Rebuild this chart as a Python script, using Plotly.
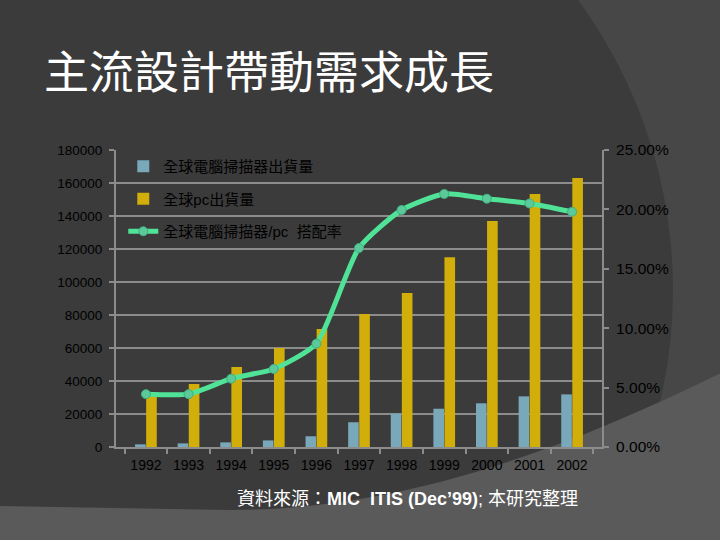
import plotly.graph_objects as go

# data
years = ["1992", "1993", "1994", "1995", "1996", "1997", "1998", "1999", "2000", "2001", "2002"]
scanner_units = [1600, 2200, 2800, 4000, 6500, 15000, 20200, 23200, 26500, 30700, 31900]
pc_units = [32000, 38200, 48500, 60000, 71500, 80600, 93300, 115000, 137000, 153300, 163000]
attach_rate = [4.45, 4.45, 5.75, 6.57, 8.7, 16.75, 19.95, 21.3, 20.9, 20.5, 19.8]  # percent

scanner_name = "全球電腦掃描器出貨量"
pc_name = "全球pc出貨量"
rate_name = "全球電腦掃描器/pc\u00a0\u00a0搭配率"

title_text = "主流設計帶動需求成長"
source_text = "資料來源：<b>MIC\u00a0\u00a0ITIS (Dec’99)</b>; 本研究整理"

BG_DARK = "#3b3b3b"
BG_MID = "#474747"
BG_LIGHT = "#5a5a5a"
GRID = "#8c8c8c"
FONT = "Liberation Sans, Noto Sans CJK TC, sans-serif"
CJK = "Noto Sans CJK TC, sans-serif"

fig = go.Figure()

fig.add_trace(go.Bar(
    x=years, y=scanner_units, name=scanner_name,
    marker=dict(color="#78a8b9", line=dict(width=0)),
    legendgroup="a",
))
fig.add_trace(go.Bar(
    x=years, y=pc_units, name=pc_name,
    marker=dict(color="#d2ae0a", line=dict(width=0)),
    legendgroup="b",
))
fig.add_trace(go.Scatter(
    x=years, y=[v / 100 for v in attach_rate], name=rate_name, yaxis="y2",
    mode="lines+markers",
    line=dict(color="#50e398", width=5, shape="spline", smoothing=0.6),
    marker=dict(size=9, color="#5cc99a", line=dict(color="#3fae80", width=1)),
    legendgroup="c",
))


# pixel -> paper helpers for the background shapes
def px(x):
    return (x - 116) / 486


def py(y):
    return (447 - y) / 297


# background decoration: lighter region right of a big arc, light band at the bottom
shapes = [
    dict(type="rect", xref="paper", yref="paper", x0=px(-10), x1=px(730), y0=py(550), y1=py(-10),
         fillcolor=BG_MID, line_width=0, layer="below"),
]

# dark disc whose right edge makes the arc
cx, cy, r = 183, 290, 490
shapes.append(dict(type="circle", xref="paper", yref="paper",
                   x0=px(cx - r), x1=px(cx + r), y0=py(cy + r), y1=py(cy - r),
                   fillcolor=BG_DARK, line_width=0, layer="below"))

# light band at the bottom
band_path = "M {0},{1} L {2},{3} C {4},{5} {6},{7} {8},{9} L {10},{11} L {12},{13} Z".format(
    px(-5), py(506), px(230), py(510), px(400), py(510), px(560), py(452),
    px(725), py(371), px(725), py(545), px(-5), py(545))
shapes.append(dict(type="path", xref="paper", yref="paper", path=band_path,
                   fillcolor=BG_LIGHT, line_width=0, layer="below"))

fig.update_layout(
    width=720, height=540, autosize=False,
    margin=dict(l=116, r=118, t=150, b=93),
    paper_bgcolor=BG_DARK,
    plot_bgcolor="rgba(0,0,0,0)",
    barmode="group", bargap=0.48, bargroupgap=0.04,
    font=dict(family=FONT, size=14, color="black"),
    showlegend=True,
    legend=dict(
        x=0.015, y=1.0, xanchor="left", yanchor="top",
        bgcolor="rgba(0,0,0,0)", tracegroupgap=10,
        font=dict(family=FONT, size=15, color="black"),
    ),
    xaxis=dict(
        type="category", showgrid=False,
        showline=True, linecolor=GRID, linewidth=2,
        ticks="outside", tickson="boundaries", ticklen=5, tickcolor=GRID, tickwidth=2,
        tickfont=dict(size=14, color="black"), ticklabelstandoff=4,
    ),
    yaxis=dict(
        range=[0, 180000], dtick=20000, tickformat="d",
        showgrid=True, gridcolor=GRID, gridwidth=2,
        showline=True, linecolor=GRID, linewidth=2,
        ticks="outside", ticklen=5, tickcolor=GRID, tickwidth=2,
        tickfont=dict(size=13.5, color="black"), ticklabelstandoff=4,
        zeroline=False,
    ),
    yaxis2=dict(
        overlaying="y", side="right",
        range=[0, 0.25], dtick=0.05, tickformat=".2%",
        showgrid=False, zeroline=False,
        showline=True, linecolor=GRID, linewidth=2,
        ticks="outside", ticklen=5, tickcolor=GRID, tickwidth=2,
        tickfont=dict(size=15.5, color="black"), ticklabelstandoff=4,
    ),
    annotations=[
        dict(text=title_text, xref="paper", yref="paper",
             x=px(42), y=py(70), xanchor="left", yanchor="middle",
             showarrow=False, font=dict(family=CJK, size=45, color="white")),
        dict(text=source_text, xref="paper", yref="paper",
             x=px(407), y=py(499), xanchor="center", yanchor="middle",
             showarrow=False, font=dict(family=FONT, size=18, color="white")),
    ],
    shapes=shapes,
)

fig.write_html("out.html", config={"displayModeBar": False},
               post_script="document.body.style.margin='0';")
